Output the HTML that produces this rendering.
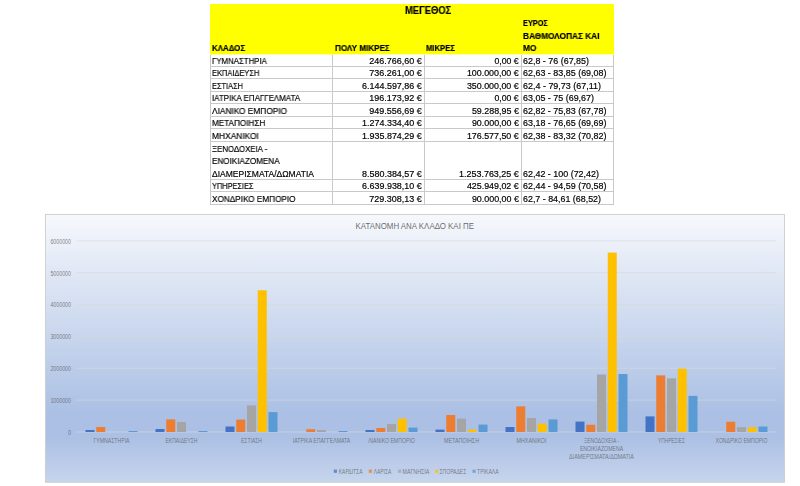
<!DOCTYPE html>
<html lang="el"><head><meta charset="utf-8"><title>ΚΑΤΑΝΟΜΗ ΑΝΑ ΚΛΑΔΟ ΚΑΙ ΠΕ</title>
<style>
html,body{margin:0;padding:0;background:#fff;}
body{width:800px;height:486px;position:relative;overflow:hidden;font-family:"Liberation Sans", sans-serif;}
#chart{position:absolute;left:0;top:0;font-family:"Liberation Sans", sans-serif;}
#tbl{position:absolute;left:210px;top:4px;border-collapse:separate;border-spacing:0;table-layout:fixed;width:404px;font-size:8.5px;color:#000;}
#tbl td,#tbl th{box-sizing:border-box;padding:0;border-right:1px solid #c9c9c9;border-bottom:1px solid #c9c9c9;vertical-align:bottom;background:#fff;overflow:visible;white-space:nowrap;font-weight:normal;text-align:left;}
#tbl tr.hd{height:51px;}
#tbl td:first-child{border-left:1px solid #c9c9c9;}
#tbl th.c1{border-left:1px solid #ffff00;}
#tbl tr.hd th{background:#ffff00;border-right-color:#ffff00;border-bottom-color:#ffffa8;position:relative;color:#000;}
#tbl tr.hd th.c4{border-right-color:#ffff00;}
.ln{height:11px;line-height:11px;position:relative;top:1.1px;}
.ln.w{height:12.8px;}
.hl{height:12.3px;line-height:12.3px;position:relative;top:0.1px;padding-left:0.8px;}
td.l .ln{padding-left:1px;}
td.n .ln{text-align:right;padding-right:2px;}
.t{display:inline-block;transform-origin:0 50%;white-space:pre;-webkit-text-stroke:0.18px #000;will-change:transform;}
.t.r{transform-origin:100% 50%;}
.t.b{font-weight:bold;}
.meg{position:absolute;left:71.3px;top:0.5px;font-size:10px;line-height:12px;}
.h2{position:absolute;left:0.5px;bottom:-0.1px;top:auto;}
.h3{position:absolute;left:92px;bottom:-0.1px;top:auto;}
</style></head>
<body>
<svg id="chart" width="800" height="486" viewBox="0 0 800 486">
<defs><linearGradient id="bg" x1="0" y1="0" x2="0" y2="1"><stop offset="0" stop-color="#F6F8FC"/><stop offset="0.74" stop-color="#ABC0E4"/><stop offset="0.83" stop-color="#ABC0E4"/><stop offset="1" stop-color="#C7D5ED"/></linearGradient></defs>
<rect x="45.4" y="214.5" width="739.1" height="267.8" fill="url(#bg)" stroke="#CDCDCD" stroke-width="0.9"/>
<line x1="76.5" x2="776.5" y1="432.00" y2="432.00" stroke="#D9D9D9" stroke-width="0.65"/>
<line x1="76.5" x2="776.5" y1="400.12" y2="400.12" stroke="#D9D9D9" stroke-width="0.65"/>
<line x1="76.5" x2="776.5" y1="368.25" y2="368.25" stroke="#D9D9D9" stroke-width="0.65"/>
<line x1="76.5" x2="776.5" y1="336.38" y2="336.38" stroke="#D9D9D9" stroke-width="0.65"/>
<line x1="76.5" x2="776.5" y1="304.50" y2="304.50" stroke="#D9D9D9" stroke-width="0.65"/>
<line x1="76.5" x2="776.5" y1="272.62" y2="272.62" stroke="#D9D9D9" stroke-width="0.65"/>
<line x1="76.5" x2="776.5" y1="240.75" y2="240.75" stroke="#D9D9D9" stroke-width="0.65"/>
<rect x="85.50" y="430.00" width="9.0" height="2.00" fill="#4472C4"/>
<rect x="96.25" y="427.00" width="9.0" height="5.00" fill="#ED7D31"/>
<rect x="128.50" y="431.00" width="9.0" height="1.00" fill="#5B9BD5"/>
<rect x="155.50" y="429.00" width="9.0" height="3.00" fill="#4472C4"/>
<rect x="166.25" y="419.40" width="9.0" height="12.60" fill="#ED7D31"/>
<rect x="177.00" y="422.00" width="9.0" height="10.00" fill="#A5A5A5"/>
<rect x="198.50" y="431.00" width="9.0" height="1.00" fill="#5B9BD5"/>
<rect x="225.50" y="426.50" width="9.0" height="5.50" fill="#4472C4"/>
<rect x="236.25" y="419.60" width="9.0" height="12.40" fill="#ED7D31"/>
<rect x="247.00" y="405.40" width="9.0" height="26.60" fill="#A5A5A5"/>
<rect x="257.75" y="290.30" width="9.0" height="141.70" fill="#FFC000"/>
<rect x="268.50" y="412.10" width="9.0" height="19.90" fill="#5B9BD5"/>
<rect x="306.25" y="429.20" width="9.0" height="2.80" fill="#ED7D31"/>
<rect x="317.00" y="430.00" width="9.0" height="2.00" fill="#A5A5A5"/>
<rect x="338.50" y="431.00" width="9.0" height="1.00" fill="#5B9BD5"/>
<rect x="365.50" y="430.00" width="9.0" height="2.00" fill="#4472C4"/>
<rect x="376.25" y="428.00" width="9.0" height="4.00" fill="#ED7D31"/>
<rect x="387.00" y="424.00" width="9.0" height="8.00" fill="#A5A5A5"/>
<rect x="397.75" y="418.60" width="9.0" height="13.40" fill="#FFC000"/>
<rect x="408.50" y="427.60" width="9.0" height="4.40" fill="#5B9BD5"/>
<rect x="435.50" y="429.60" width="9.0" height="2.40" fill="#4472C4"/>
<rect x="446.25" y="415.00" width="9.0" height="17.00" fill="#ED7D31"/>
<rect x="457.00" y="418.60" width="9.0" height="13.40" fill="#A5A5A5"/>
<rect x="467.75" y="429.60" width="9.0" height="2.40" fill="#FFC000"/>
<rect x="478.50" y="424.60" width="9.0" height="7.40" fill="#5B9BD5"/>
<rect x="505.50" y="427.00" width="9.0" height="5.00" fill="#4472C4"/>
<rect x="516.25" y="406.40" width="9.0" height="25.60" fill="#ED7D31"/>
<rect x="527.00" y="418.00" width="9.0" height="14.00" fill="#A5A5A5"/>
<rect x="537.75" y="423.60" width="9.0" height="8.40" fill="#FFC000"/>
<rect x="548.50" y="419.40" width="9.0" height="12.60" fill="#5B9BD5"/>
<rect x="575.50" y="421.60" width="9.0" height="10.40" fill="#4472C4"/>
<rect x="586.25" y="424.75" width="9.0" height="7.25" fill="#ED7D31"/>
<rect x="597.00" y="374.50" width="9.0" height="57.50" fill="#A5A5A5"/>
<rect x="607.75" y="252.60" width="9.0" height="179.40" fill="#FFC000"/>
<rect x="618.50" y="374.00" width="9.0" height="58.00" fill="#5B9BD5"/>
<rect x="645.50" y="416.40" width="9.0" height="15.60" fill="#4472C4"/>
<rect x="656.25" y="375.40" width="9.0" height="56.60" fill="#ED7D31"/>
<rect x="667.00" y="378.40" width="9.0" height="53.60" fill="#A5A5A5"/>
<rect x="677.75" y="368.75" width="9.0" height="63.25" fill="#FFC000"/>
<rect x="688.50" y="395.90" width="9.0" height="36.10" fill="#5B9BD5"/>
<rect x="726.25" y="421.75" width="9.0" height="10.25" fill="#ED7D31"/>
<rect x="737.00" y="427.25" width="9.0" height="4.75" fill="#A5A5A5"/>
<rect x="747.75" y="427.25" width="9.0" height="4.75" fill="#FFC000"/>
<rect x="758.50" y="426.50" width="9.0" height="5.50" fill="#5B9BD5"/>
<g font-size="6.3" fill="#595959" fill-opacity="0.76" text-anchor="end">
<text x="71" y="434.90" textLength="3.0" lengthAdjust="spacingAndGlyphs">0</text>
<text x="71" y="403.02" textLength="20.6" lengthAdjust="spacingAndGlyphs">1000000</text>
<text x="71" y="371.15" textLength="20.6" lengthAdjust="spacingAndGlyphs">2000000</text>
<text x="71" y="339.27" textLength="20.6" lengthAdjust="spacingAndGlyphs">3000000</text>
<text x="71" y="307.40" textLength="20.6" lengthAdjust="spacingAndGlyphs">4000000</text>
<text x="71" y="275.52" textLength="20.6" lengthAdjust="spacingAndGlyphs">5000000</text>
<text x="71" y="243.65" textLength="20.6" lengthAdjust="spacingAndGlyphs">6000000</text>
</g>
<g font-size="6.6" fill="#595959" fill-opacity="0.76" text-anchor="middle">
<text x="111.50" y="443.00" textLength="36" lengthAdjust="spacingAndGlyphs">ΓΥΜΝΑΣΤΗΡΙΑ</text>
<text x="181.50" y="443.00" textLength="32" lengthAdjust="spacingAndGlyphs">ΕΚΠΑΙΔΕΥΣΗ</text>
<text x="251.50" y="443.00" textLength="21" lengthAdjust="spacingAndGlyphs">ΕΣΤΙΑΣΗ</text>
<text x="321.50" y="443.00" textLength="57.5" lengthAdjust="spacingAndGlyphs">ΙΑΤΡΙΚΑ ΕΠΑΓΓΕΛΜΑΤΑ</text>
<text x="391.50" y="443.00" textLength="46.75" lengthAdjust="spacingAndGlyphs">ΛΙΑΝΙΚΟ ΕΜΠΟΡΙΟ</text>
<text x="461.50" y="443.00" textLength="35" lengthAdjust="spacingAndGlyphs">ΜΕΤΑΠΟΙΗΣΗ</text>
<text x="531.50" y="443.00" textLength="30" lengthAdjust="spacingAndGlyphs">ΜΗΧΑΝΙΚΟΙ</text>
<text x="601.50" y="443.00" textLength="35" lengthAdjust="spacingAndGlyphs">ΞΕΝΟΔΟΧΕΙΑ -</text>
<text x="601.50" y="451.00" textLength="43.25" lengthAdjust="spacingAndGlyphs">ΕΝΟΙΚΙΑΖΟΜΕΝΑ</text>
<text x="601.50" y="459.00" textLength="65" lengthAdjust="spacingAndGlyphs">ΔΙΑΜΕΡΙΣΜΑΤΑ/ΔΩΜΑΤΙΑ</text>
<text x="671.50" y="443.00" textLength="27" lengthAdjust="spacingAndGlyphs">ΥΠΗΡΕΣΙΕΣ</text>
<text x="741.50" y="443.00" textLength="52" lengthAdjust="spacingAndGlyphs">ΧΟΝΔΡΙΚΟ ΕΜΠΟΡΙΟ</text>
</g>
<text x="355.5" y="229" font-size="8.4" fill="#595959" fill-opacity="0.9" textLength="118.5" lengthAdjust="spacingAndGlyphs">ΚΑΤΑΝΟΜΗ ΑΝΑ ΚΛΑΔΟ ΚΑΙ ΠΕ</text>
<g font-size="6.3" fill="#595959" fill-opacity="0.76">
<rect x="333.75" y="469.6" width="3.2" height="3.2" fill="#4472C4"/>
<text x="338.75" y="473.5" textLength="23.75" lengthAdjust="spacingAndGlyphs">ΚΑΡΔΙΤΣΑ</text>
<rect x="368.75" y="469.6" width="3.2" height="3.2" fill="#ED7D31"/>
<text x="373.75" y="473.5" textLength="17.5" lengthAdjust="spacingAndGlyphs">ΛΑΡΙΣΑ</text>
<rect x="398" y="469.6" width="3.2" height="3.2" fill="#A5A5A5"/>
<text x="402.5" y="473.5" textLength="26.75" lengthAdjust="spacingAndGlyphs">ΜΑΓΝΗΣΙΑ</text>
<rect x="435" y="469.6" width="3.2" height="3.2" fill="#FFC000"/>
<text x="439.5" y="473.5" textLength="26.75" lengthAdjust="spacingAndGlyphs">ΣΠΟΡΑΔΕΣ</text>
<rect x="472.5" y="469.6" width="3.2" height="3.2" fill="#5B9BD5"/>
<text x="477" y="473.5" textLength="21.75" lengthAdjust="spacingAndGlyphs">ΤΡΙΚΑΛΑ</text>
</g>
</svg>
<table id="tbl"><colgroup><col style="width:123px"><col style="width:91px"><col style="width:97px"><col style="width:92px"></colgroup>
<tr class="hd">
<th class="c1"><div class="hl"><span class="t b" style="transform:scaleX(0.9312)">ΚΛΑΔΟΣ</span></div></th>
<th colspan="2" class="c23"><div class="meg"><span class="t b" style="transform:scaleX(0.9381)">ΜΕΓΕΘΟΣ</span></div><div class="hl h2"><span class="t b" style="transform:scaleX(0.9533)">ΠΟΛΥ ΜΙΚΡΕΣ</span></div><div class="hl h3"><span class="t b" style="transform:scaleX(0.9022)">ΜΙΚΡΕΣ</span></div></th>
<th class="c4"><div class="hl"><span class="t b" style="transform:scaleX(0.8648)">ΕΥΡΟΣ</span></div><div class="hl"><span class="t b" style="transform:scaleX(0.9737)">ΒΑΘΜΟΛΟΠΑΣ ΚΑΙ</span></div><div class="hl"><span class="t b" style="transform:scaleX(0.9852)">ΜΟ</span></div></th>
</tr>
<tr style="height:12px">
<td class="l"><div class="ln"><span class="t" style="transform:scaleX(0.9222)">ΓΥΜΝΑΣΤΗΡΙΑ</span></div></td>
<td class="n"><div class="ln"><span class="t r" style="transform:scaleX(1.0576)">246.766,60 €</span></div></td>
<td class="n"><div class="ln"><span class="t r" style="transform:scaleX(1.0258)">0,00 €</span></div></td>
<td class="l"><div class="ln"><span class="t" style="transform:scaleX(1.0500)">62,8 - 76 (67,85)</span></div></td>
</tr>
<tr style="height:12px">
<td class="l"><div class="ln"><span class="t" style="transform:scaleX(0.8790)">ΕΚΠΑΙΔΕΥΣΗ</span></div></td>
<td class="n"><div class="ln"><span class="t r" style="transform:scaleX(1.0576)">736.261,00 €</span></div></td>
<td class="n"><div class="ln"><span class="t r" style="transform:scaleX(1.0425)">100.000,00 €</span></div></td>
<td class="l"><div class="ln"><span class="t" style="transform:scaleX(1.0518)">62,63 - 83,85 (69,08)</span></div></td>
</tr>
<tr style="height:13px">
<td class="l"><div class="ln"><span class="t" style="transform:scaleX(0.8693)">ΕΣΤΙΑΣΗ</span></div></td>
<td class="n"><div class="ln"><span class="t r" style="transform:scaleX(1.0523)">6.144.597,86 €</span></div></td>
<td class="n"><div class="ln"><span class="t r" style="transform:scaleX(1.0425)">350.000,00 €</span></div></td>
<td class="l"><div class="ln"><span class="t" style="transform:scaleX(1.0536)">62,4 - 79,73 (67,11)</span></div></td>
</tr>
<tr style="height:12px">
<td class="l"><div class="ln"><span class="t" style="transform:scaleX(0.9332)">ΙΑΤΡΙΚΑ ΕΠΑΓΓΕΛΜΑΤΑ</span></div></td>
<td class="n"><div class="ln"><span class="t r" style="transform:scaleX(1.0576)">196.173,92 €</span></div></td>
<td class="n"><div class="ln"><span class="t r" style="transform:scaleX(1.0258)">0,00 €</span></div></td>
<td class="l"><div class="ln"><span class="t" style="transform:scaleX(1.0506)">63,05 - 75 (69,67)</span></div></td>
</tr>
<tr style="height:13px">
<td class="l"><div class="ln"><span class="t" style="transform:scaleX(0.9787)">ΛΙΑΝΙΚΟ ΕΜΠΟΡΙΟ</span></div></td>
<td class="n"><div class="ln"><span class="t r" style="transform:scaleX(1.0576)">949.556,69 €</span></div></td>
<td class="n"><div class="ln"><span class="t r" style="transform:scaleX(1.0466)">59.288,95 €</span></div></td>
<td class="l"><div class="ln"><span class="t" style="transform:scaleX(1.0518)">62,82 - 75,83 (67,78)</span></div></td>
</tr>
<tr style="height:12px">
<td class="l"><div class="ln"><span class="t" style="transform:scaleX(0.9582)">ΜΕΤΑΠΟΙΗΣΗ</span></div></td>
<td class="n"><div class="ln"><span class="t r" style="transform:scaleX(1.0523)">1.274.334,40 €</span></div></td>
<td class="n"><div class="ln"><span class="t r" style="transform:scaleX(1.0466)">90.000,00 €</span></div></td>
<td class="l"><div class="ln"><span class="t" style="transform:scaleX(1.0518)">63,18 - 76,65 (69,69)</span></div></td>
</tr>
<tr style="height:13px">
<td class="l"><div class="ln"><span class="t" style="transform:scaleX(0.9862)">ΜΗΧΑΝΙΚΟΙ</span></div></td>
<td class="n"><div class="ln"><span class="t r" style="transform:scaleX(1.0523)">1.935.874,29 €</span></div></td>
<td class="n"><div class="ln"><span class="t r" style="transform:scaleX(1.0425)">176.577,50 €</span></div></td>
<td class="l"><div class="ln"><span class="t" style="transform:scaleX(1.0518)">62,38 - 83,32 (70,82)</span></div></td>
</tr>
<tr style="height:38px">
<td class="l"><div class="ln w"><span class="t" style="transform:scaleX(0.9219)">ΞΕΝΟΔΟΧΕΙΑ -</span></div><div class="ln w"><span class="t" style="transform:scaleX(0.9542)">ΕΝΟΙΚΙΑΖΟΜΕΝΑ</span></div><div class="ln"><span class="t" style="transform:scaleX(1.0015)">ΔΙΑΜΕΡΙΣΜΑΤΑ/ΔΩΜΑΤΙΑ</span></div></td>
<td class="n"><div class="ln"><span class="t r" style="transform:scaleX(1.0523)">8.580.384,57 €</span></div></td>
<td class="n"><div class="ln"><span class="t r" style="transform:scaleX(1.0523)">1.253.763,25 €</span></div></td>
<td class="l"><div class="ln"><span class="t" style="transform:scaleX(1.0510)">62,42 - 100 (72,42)</span></div></td>
</tr>
<tr style="height:12px">
<td class="l"><div class="ln"><span class="t" style="transform:scaleX(0.8677)">ΥΠΗΡΕΣΙΕΣ</span></div></td>
<td class="n"><div class="ln"><span class="t r" style="transform:scaleX(1.0523)">6.639.938,10 €</span></div></td>
<td class="n"><div class="ln"><span class="t r" style="transform:scaleX(1.0425)">425.949,02 €</span></div></td>
<td class="l"><div class="ln"><span class="t" style="transform:scaleX(1.0518)">62,44 - 94,59 (70,58)</span></div></td>
</tr>
<tr style="height:13px">
<td class="l"><div class="ln"><span class="t" style="transform:scaleX(0.9636)">ΧΟΝΔΡΙΚΟ ΕΜΠΟΡΙΟ</span></div></td>
<td class="n"><div class="ln"><span class="t r" style="transform:scaleX(1.0576)">729.308,13 €</span></div></td>
<td class="n"><div class="ln"><span class="t r" style="transform:scaleX(1.0466)">90.000,00 €</span></div></td>
<td class="l"><div class="ln"><span class="t" style="transform:scaleX(1.0446)">62,7 - 84,61 (68,52)</span></div></td>
</tr>
</table>
</body></html>
